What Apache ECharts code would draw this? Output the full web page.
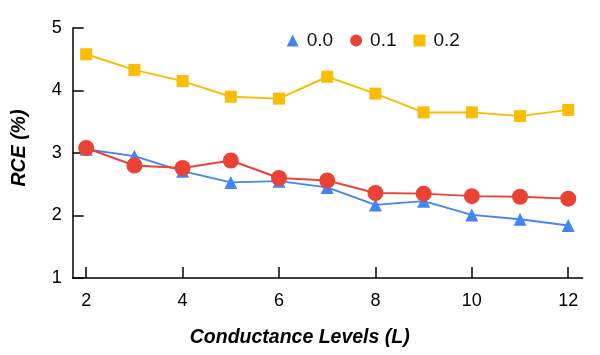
<!DOCTYPE html>
<html>
<head>
<meta charset="utf-8">
<script src="https://cdn.jsdelivr.net/npm/echarts@6/dist/echarts.min.js"></script>
<style>
  html, body { margin: 0; padding: 0; background: #fff; }
  #graf { width: 600px; height: 355px; }
</style>
</head>
<body>
<div id="graf"></div>
<script>
// niveles de conductancia (eje x)
var levels = [2, 3, 4, 5, 6, 7, 8, 9, 10, 11, 12];
var xTicks = [2, 4, 6, 8, 10, 12];

// RCE (%) por serie
var rce00 = [3.06, 2.95, 2.71, 2.53, 2.55, 2.45, 2.17, 2.23, 2.01, 1.94, 1.84];
var rce01 = [3.08, 2.80, 2.76, 2.88, 2.60, 2.56, 2.36, 2.35, 2.31, 2.30, 2.27];
var rce02 = [4.58, 4.33, 4.15, 3.90, 3.87, 4.22, 3.95, 3.65, 3.65, 3.59, 3.69];

var names = ['0.0', '0.1', '0.2'];
var colors = ['#4285F4', '#EA4335', '#FBBC04'];

function pares(vals) {
  return levels.map(function (l, i) { return [l, vals[i]]; });
}

var myChart = echarts.init(document.getElementById('graf'));

var font = 'Arial, "Liberation Sans", sans-serif';

var option = {
  animation: false,
  textStyle: { fontFamily: font },
  grid: { left: 72.7, right: 17.3, top: 28, bottom: 77 },
  legend: {
    left: 281.7,
    top: 26,
    itemWidth: 12,
    itemHeight: 12,
    itemGap: 17,
    textStyle: { fontSize: 19, color: '#111', fontFamily: font, padding: [0, 0, 0, 3] },
    data: [
      { name: names[0], icon: 'triangle' },
      { name: names[1], icon: 'circle' },
      { name: names[2], icon: 'rect' }
    ]
  },
  xAxis: {
    type: 'value',
    min: 1.72,
    max: 12.3,
    name: 'Conductance Levels (L)',
    nameLocation: 'middle',
    nameGap: 50,
    nameTextStyle: {
      fontSize: 19.5, fontWeight: 'bold', fontStyle: 'italic', color: '#000',
      fontFamily: font, padding: [0, 56, 0, 0]
    },
    splitLine: { show: false },
    axisLine: { lineStyle: { color: '#000', width: 1.5 } },
    axisTick: { inside: true, length: 11, lineStyle: { color: '#000', width: 1.5 }, customValues: xTicks },
    axisLabel: { fontSize: 18, color: '#000', margin: 14, customValues: xTicks }
  },
  yAxis: {
    type: 'value',
    min: 1,
    max: 5,
    interval: 1,
    name: 'RCE (%)',
    nameLocation: 'middle',
    nameGap: 43,
    nameTextStyle: {
      fontSize: 19.5, fontWeight: 'bold', fontStyle: 'italic', color: '#000',
      fontFamily: font, padding: [0, 0, 0, 10]
    },
    splitLine: { show: false },
    axisLine: { show: true, lineStyle: { color: '#000', width: 1.5 } },
    axisTick: { show: true, inside: true, length: 11, lineStyle: { color: '#000', width: 1.5 } },
    axisLabel: { fontSize: 18, color: '#000', margin: 11 }
  },
  series: [
    {
      name: names[0],
      type: 'line',
      symbol: 'triangle',
      symbolSize: 13,
      color: colors[0],
      lineStyle: { width: 2 },
      data: pares(rce00)
    },
    {
      name: names[1],
      type: 'line',
      symbol: 'circle',
      symbolSize: 16,
      color: colors[1],
      lineStyle: { width: 2 },
      data: pares(rce01)
    },
    {
      name: names[2],
      type: 'line',
      symbol: 'rect',
      symbolSize: 12,
      color: colors[2],
      lineStyle: { width: 2 },
      data: pares(rce02)
    }
  ]
};

myChart.setOption(option);
</script>
</body>
</html>
